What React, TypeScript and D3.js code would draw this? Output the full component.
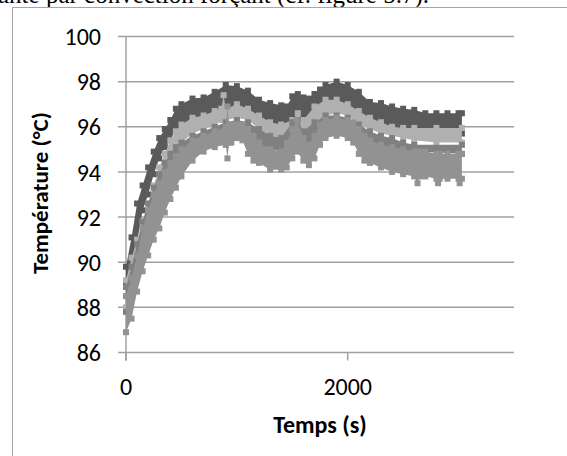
import React from "react";
import * as d3 from "d3";

// Time axis and temperature ticks
const yTicks = [86, 88, 90, 92, 94, 96, 98, 100];
const xTicks = [0, 2000];

const darkT = [0, 50, 100, 150, 200, 250, 300, 350, 400, 450, 500, 600, 700, 800, 900, 1000, 1100, 1200, 1300, 1400, 1450, 1500, 1550, 1600, 1650, 1700, 1750, 1800, 1900, 2000, 2100, 2200, 2300, 2400, 2500, 2600, 2700, 2800, 2900, 3000, 3030];
const darkLow = [89.0, 89.7, 90.9, 92.3, 93.0, 93.9, 94.6, 95.1, 95.4, 95.9, 96.1, 96.3, 96.4, 96.6, 96.8, 96.9, 96.7, 96.3, 96.0, 95.9, 95.9, 96.1, 96.3, 96.2, 96.1, 96.3, 96.7, 96.9, 97.1, 96.9, 96.7, 96.3, 96.0, 95.9, 95.8, 95.7, 95.7, 95.6, 95.7, 95.7, 95.7];
const darkHigh = [89.8, 91.1, 92.6, 93.4, 94.2, 94.9, 95.5, 95.9, 96.3, 96.8, 97.0, 97.25, 97.3, 97.55, 97.85, 97.8, 97.6, 97.2, 97.05, 96.95, 96.9, 97.35, 97.45, 97.3, 97.25, 97.45, 97.65, 97.85, 98.0, 97.85, 97.55, 97.1, 97.05, 96.9, 96.8, 96.75, 96.6, 96.6, 96.6, 96.6, 96.6];

const lightT = [0, 50, 100, 150, 200, 250, 300, 350, 400, 450, 500, 600, 700, 800, 860, 880, 900, 1000, 1100, 1200, 1300, 1400, 1500, 1550, 1600, 1700, 1800, 1900, 2000, 2100, 2200, 2300, 2400, 2500, 2600, 2800, 3030];
const lightLow = [88.0, 89.0, 90.0, 91.0, 91.7, 92.5, 93.2, 93.9, 94.4, 94.9, 95.3, 95.7, 95.9, 96.1, 96.3, 96.3, 96.3, 96.4, 96.3, 95.9, 95.5, 95.4, 95.5, 95.7, 95.5, 96.0, 96.5, 96.6, 96.5, 96.1, 95.9, 95.7, 95.6, 95.5, 95.4, 95.3, 95.3];
const lightHigh = [89.2, 90.2, 91.0, 91.8, 92.6, 93.4, 94.2, 94.8, 95.4, 95.8, 96.1, 96.4, 96.5, 96.7, 96.8, 97.4, 96.8, 97.0, 96.8, 96.5, 96.2, 96.1, 96.3, 96.6, 96.3, 96.9, 97.2, 97.2, 97.0, 96.7, 96.4, 96.2, 96.0, 95.95, 95.95, 95.95, 95.95];

const midT = [0, 50, 100, 150, 200, 250, 300, 350, 400, 450, 500, 600, 700, 800, 900, 1000, 1100, 1200, 1300, 1400, 1500, 1550, 1600, 1700, 1800, 1900, 2000, 2100, 2200, 2300, 2400, 2500, 2600, 3030];
const midLow = [87.8, 88.6, 89.6, 90.5, 91.4, 92.2, 92.9, 93.4, 93.8, 94.2, 94.5, 94.9, 95.1, 95.3, 95.5, 95.7, 95.5, 95.2, 95.0, 94.9, 95.2, 95.4, 95.0, 95.5, 95.8, 95.9, 95.8, 95.5, 95.3, 95.1, 95.0, 94.9, 94.9, 94.8];
const midHigh = [88.9, 89.8, 90.8, 91.8, 92.6, 93.3, 93.9, 94.4, 94.8, 95.1, 95.3, 95.6, 95.8, 96.0, 96.2, 96.3, 96.2, 95.9, 95.6, 95.5, 96.2, 96.3, 95.8, 96.2, 96.5, 96.5, 96.4, 96.1, 95.8, 95.6, 95.5, 95.3, 95.2, 95.2];

const lowT = [0, 50, 100, 150, 200, 250, 300, 350, 400, 450, 500, 600, 700, 800, 900, 915, 930, 950, 1000, 1050, 1100, 1150, 1200, 1300, 1400, 1450, 1500, 1540, 1600, 1650, 1700, 1750, 1800, 1900, 2000, 2050, 2100, 2150, 2200, 2300, 2400, 2500, 2600, 2630, 2650, 2700, 2800, 2815, 2830, 2900, 3000, 3010, 3030];
const lowLow = [86.9, 87.5, 88.7, 89.6, 90.3, 91.0, 91.5, 92.2, 92.8, 93.3, 93.8, 94.5, 94.9, 95.1, 95.2, 94.6, 95.3, 95.3, 95.5, 95.4, 94.8, 94.5, 94.4, 94.1, 94.1, 94.2, 94.6, 94.9, 94.5, 94.3, 94.6, 95.2, 95.5, 95.6, 95.5, 95.3, 94.8, 94.5, 94.4, 94.2, 94.0, 93.9, 93.8, 93.5, 93.8, 93.8, 93.7, 93.5, 93.7, 93.7, 93.7, 93.5, 93.7];
const lowHigh = [88.5, 89.3, 90.3, 91.5, 92.3, 93.0, 93.5, 94.0, 94.4, 94.7, 95.0, 95.4, 95.6, 95.8, 96.0, 96.9, 96.1, 96.1, 96.1, 96.1, 95.9, 95.6, 95.3, 95.0, 94.9, 95.3, 95.9, 96.3, 95.5, 95.2, 95.6, 96.1, 96.3, 96.4, 96.3, 96.2, 95.9, 95.6, 95.4, 95.2, 95.1, 95.0, 94.9, 94.9, 94.9, 94.9, 94.8, 94.8, 94.8, 94.8, 94.8, 94.8, 94.8];

const seriesList = [
  { name: "S1", t: darkT, lo: darkLow, hi: darkHigh, color: "#5a5a5a" },
  { name: "S2", t: lightT, lo: lightLow, hi: lightHigh, color: "#b0b0b0" },
  { name: "S3", t: midT, lo: midLow, hi: midHigh, color: "#808080" },
  { name: "S4", t: lowT, lo: lowLow, hi: lowHigh, color: "#929292" },
];

const W = 567;
const H = 456;
const x = d3.scaleLinear().domain([0, 3500]).range([126, 514]);
const y = d3.scaleLinear().domain([86, 100]).range([352.5, 36.5]);

const FONT = "Carlito, Lato, 'Open Sans', sans-serif";

export default function App() {
  return (
    <svg width={W} height={H} style={{ position: "absolute", left: 0, top: 0, background: "#fff" }}>
      <text x={-2} y={3} fontFamily="'Liberation Serif', 'Times New Roman', serif" fontSize={25} fill="#000">
        ante par convection forçant (cf. figure 5.7).
      </text>
      <rect x={12.5} y={7.5} width={W} height={H} fill="#fff" stroke="#a6a6a6" strokeWidth={1} />
      {yTicks.map((v) => (
        <g key={v}>
          <line x1={118} x2={x(3500)} y1={y(v)} y2={y(v)} stroke="#a0a0a0" strokeWidth={1.5} />
          <text x={101} y={y(v)} dy="0.36em" textAnchor="end" fontFamily={FONT} fontSize={24} fill="#000">
            {v}
          </text>
        </g>
      ))}
      <line x1={x(0)} x2={x(0)} y1={y(100)} y2={y(86) + 8} stroke="#a0a0a0" strokeWidth={1.5} />
      {xTicks.map((t) => (
        <g key={t}>
          <line x1={x(t)} x2={x(t)} y1={y(86)} y2={y(86) + 8} stroke="#a0a0a0" strokeWidth={1.5} />
          <text x={x(t)} y={395} textAnchor="middle" fontFamily={FONT} fontSize={24} fill="#000">
            {t}
          </text>
        </g>
      ))}
      {seriesList.map((s) => {
        const idx = s.t.map((_, i) => i);
        const a = d3
          .area<number>()
          .x((i) => x(s.t[i]))
          .y0((i) => y(s.lo[i]))
          .y1((i) => y(s.hi[i]))
          .curve(d3.curveLinear);
        return (
          <g key={s.name}>
            <path d={a(idx) || ""} fill={s.color} />
            {idx.map((i) => (
              <g key={i}>
                <rect x={x(s.t[i]) - 3} y={y(s.hi[i]) - 3} width={6} height={6} fill={s.color} />
                <rect x={x(s.t[i]) - 3} y={y(s.lo[i]) - 3} width={6} height={6} fill={s.color} />
              </g>
            ))}
          </g>
        );
      })}
      <text
        transform={`translate(48, 193) rotate(-90)`}
        textAnchor="middle"
        fontFamily={FONT}
        fontWeight="bold"
        fontSize={23}
        fill="#000"
      >
        Température (°C)
      </text>
      <text x={320} y={433} textAnchor="middle" fontFamily={FONT} fontWeight="bold" fontSize={24} fill="#000">
        Temps (s)
      </text>
    </svg>
  );
}
